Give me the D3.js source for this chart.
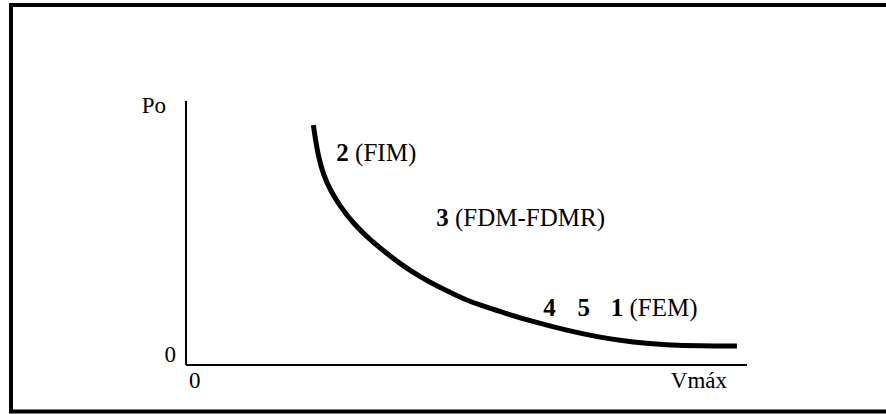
<!DOCTYPE html>
<html>
<head>
<meta charset="utf-8">
<script src="https://cdn.jsdelivr.net/npm/d3@7"></script>
<style>
  body { margin: 0; background: #fff; }
  text { font-family: "Liberation Serif", "DejaVu Serif", Tinos, "Nimbus Roman", "Nimbus Roman No9 L", FreeSerif, Times, serif; }
</style>
</head>
<body>
<svg id="chart" width="886" height="414"></svg>
<script>
// curve: x as share of Vmáx, y as share of Po
const curveX = [0.227, 0.230, 0.236, 0.245, 0.257, 0.275, 0.298, 0.328, 0.358, 0.387, 0.417, 0.447,
                0.477, 0.506, 0.536, 0.566, 0.619, 0.679, 0.738, 0.797, 0.857, 0.916, 0.982];
const curveY = [0.909, 0.865, 0.789, 0.720, 0.663, 0.600, 0.537, 0.474, 0.423, 0.375, 0.335, 0.299,
                0.269, 0.240, 0.219, 0.198, 0.164, 0.131, 0.104, 0.086, 0.076, 0.072, 0.072];

const xTickLabels = ["0", "Vmáx"];
const yTickLabels = ["0", "Po"];

// region labels: bold number + plain name
const regionNums = ["2", "3", "4", "5", "1"];
const regionNames = ["(FIM)", "(FDM-FDMR)", "", "", "(FEM)"];

const svg = d3.select("svg#chart");

// frame around the figure (right edge falls outside the picture)
svg.append("rect")
  .attr("x", 11).attr("y", 5)
  .attr("width", 900).attr("height", 406.5)
  .attr("fill", "none").attr("stroke", "#000").attr("stroke-width", 4);

const x = d3.scaleLinear().domain([0, 1]).range([186, 747]);
const y = d3.scaleLinear().domain([0, 1]).range([365, 101]);

// axes, drawn as plain lines
const g = svg.append("g");
g.append("line")
  .attr("x1", x(0)).attr("x2", x(0))
  .attr("y1", y(0)).attr("y2", y(1))
  .attr("stroke", "#000").attr("stroke-width", 2);
g.append("line")
  .attr("x1", x(0)).attr("x2", x(1))
  .attr("y1", y(0)).attr("y2", y(0))
  .attr("stroke", "#000").attr("stroke-width", 2);

// y labels
g.append("text").attr("x", x(0) - 10).attr("y", y(0) - 3)
  .attr("text-anchor", "end").attr("font-size", 23).text(yTickLabels[0]);
g.append("text").attr("x", x(0) - 20).attr("y", y(1) + 12)
  .attr("text-anchor", "end").attr("font-size", 23).text(yTickLabels[1]);

// x labels
g.append("text").attr("x", x(0) + 3).attr("y", y(0) + 23)
  .attr("font-size", 23).text(xTickLabels[0]);
g.append("text").attr("x", x(1) - 20).attr("y", y(0) + 23)
  .attr("text-anchor", "end").attr("font-size", 23).text(xTickLabels[1]);

// curve
const pts = curveX.map((d, i) => [d, curveY[i]]);
const line = d3.line()
  .x(d => x(d[0]))
  .y(d => y(d[1]))
  .curve(d3.curveBasis);

svg.append("path")
  .datum(pts)
  .attr("d", line)
  .attr("fill", "none")
  .attr("stroke", "#000")
  .attr("stroke-width", 5);

// region labels, placed in data space
const labelPos = [[0.268, 0.772], [0.446, 0.525], [0.637, 0.185], [0.698, 0.185], [0.757, 0.185]];
regionNums.forEach(function(n, i) {
  const t = svg.append("text")
    .attr("x", x(labelPos[i][0]))
    .attr("y", y(labelPos[i][1]))
    .attr("font-size", 25);
  t.append("tspan").attr("font-weight", "bold").text(n);
  if (regionNames[i]) t.append("tspan").text(" " + regionNames[i]);
});
</script>
</body>
</html>
